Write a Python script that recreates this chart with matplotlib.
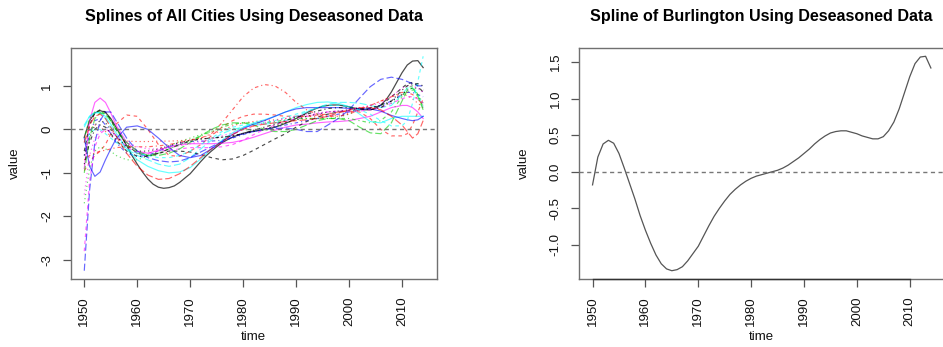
import matplotlib
matplotlib.use("Agg")
import matplotlib.pyplot as plt
from matplotlib.ticker import FixedLocator, FuncFormatter

plt.rcParams['font.family'] = ['Liberation Sans', 'DejaVu Sans']
plt.rcParams['axes.unicode_minus'] = False

# ---------------- data ----------------
time = [1950, 1951, 1952, 1953, 1954, 1955, 1956, 1958, 1960, 1962, 1964, 1966,
        1968, 1970, 1972, 1974, 1976, 1978, 1980, 1982, 1984, 1986, 1988, 1990,
        1992, 1994, 1996, 1998, 2000, 2002, 2004, 2006, 2008, 2010, 2011, 2012,
        2013, 2014]

years = list(range(1950, 2015))
burlington = [-0.18, 0.20, 0.38, 0.43, 0.39, 0.25, 0.05, -0.16, -0.37, -0.60,
              -0.80, -0.98, -1.14, -1.26, -1.33, -1.355, -1.34, -1.30, -1.22, -1.12,
              -1.02, -0.88, -0.74, -0.61, -0.50, -0.40, -0.31, -0.24, -0.18, -0.13,
              -0.09, -0.06, -0.04, -0.02, 0.00, 0.02, 0.05, 0.09, 0.14, 0.19,
              0.25, 0.31, 0.38, 0.44, 0.49, 0.53, 0.55, 0.56, 0.56, 0.54,
              0.52, 0.49, 0.47, 0.45, 0.45, 0.48, 0.56, 0.68, 0.86, 1.08,
              1.30, 1.48, 1.57, 1.58, 1.42]

city02 = [-0.95, -0.75, -0.60, -0.50, -0.35, -0.10, 0.12, 0.33, 0.30, 0.00, -0.35, -0.60,
          -0.62, -0.50, -0.35, -0.15, 0.05, 0.20, 0.30, 0.35, 0.35, 0.33, 0.30, 0.30,
          0.30, 0.33, 0.35, 0.40, 0.42, 0.40, 0.25, 0.00, -0.15, -0.15, -0.10, 0.10,
          0.40, 0.70]
city03 = [-1.70, -0.90, -0.50, -0.40, -0.45, -0.50, -0.60, -0.70, -0.70, -0.62, -0.50, -0.38,
          -0.28, -0.20, -0.12, -0.05, 0.00, 0.02, 0.00, -0.03, -0.02, 0.05, 0.15, 0.22,
          0.25, 0.25, 0.25, 0.28, 0.35, 0.45, 0.50, 0.55, 0.60, 0.75, 0.85, 0.90,
          0.80, 0.60]
city04 = [-0.60, -0.10, 0.20, 0.25, 0.10, -0.10, -0.30, -0.55, -0.62, -0.60, -0.50, -0.40,
          -0.32, -0.28, -0.27, -0.27, -0.25, -0.20, -0.12, -0.05, 0.00, 0.05, 0.10, 0.15,
          0.20, 0.25, 0.30, 0.35, 0.40, 0.45, 0.50, 0.55, 0.65, 0.80, 0.85, 0.85,
          0.80, 0.75]
city05 = [0.05, 0.30, 0.40, 0.38, 0.25, 0.05, -0.15, -0.45, -0.60, -0.70, -0.80, -0.85,
          -0.80, -0.65, -0.45, -0.25, -0.10, 0.00, 0.05, 0.10, 0.12, 0.15, 0.20, 0.30,
          0.40, 0.50, 0.58, 0.62, 0.62, 0.60, 0.55, 0.50, 0.55, 0.80, 0.95, 0.95,
          0.80, 0.50]
city06 = [-0.90, 0.20, 0.62, 0.72, 0.62, 0.38, 0.10, -0.30, -0.50, -0.55, -0.48, -0.40,
          -0.35, -0.33, -0.33, -0.33, -0.32, -0.30, -0.25, -0.18, -0.10, -0.02, 0.05, 0.10,
          0.12, 0.15, 0.17, 0.18, 0.20, 0.25, 0.30, 0.40, 0.50, 0.55, 0.55, 0.50,
          0.40, 0.25]
city07 = [-0.50, 0.10, 0.38, 0.45, 0.40, 0.22, 0.00, -0.35, -0.55, -0.60, -0.55, -0.50,
          -0.50, -0.52, -0.58, -0.65, -0.70, -0.68, -0.60, -0.48, -0.35, -0.22, -0.10, 0.05,
          0.18, 0.28, 0.35, 0.40, 0.43, 0.45, 0.48, 0.55, 0.75, 0.95, 1.05, 1.08,
          1.00, 0.85]
city08 = [-0.30, 0.00, 0.10, 0.05, -0.05, -0.15, -0.22, -0.27, -0.28, -0.28, -0.27, -0.27,
          -0.26, -0.24, -0.20, -0.12, -0.02, 0.08, 0.15, 0.18, 0.20, 0.22, 0.25, 0.28,
          0.30, 0.30, 0.30, 0.32, 0.38, 0.45, 0.55, 0.65, 0.75, 0.80, 0.78, 0.70,
          0.60, 0.50]
city09 = [-0.20, 0.25, 0.40, 0.42, 0.35, 0.20, 0.00, -0.35, -0.55, -0.60, -0.55, -0.45,
          -0.35, -0.25, -0.15, -0.05, 0.05, 0.12, 0.15, 0.15, 0.15, 0.18, 0.22, 0.25,
          0.25, 0.25, 0.25, 0.25, 0.25, 0.20, 0.15, 0.20, 0.40, 0.75, 0.95, 1.00,
          0.80, 0.50]
city10 = [-3.25, -1.40, -0.30, 0.20, 0.40, 0.40, 0.20, -0.20, -0.50, -0.65, -0.72, -0.75,
          -0.73, -0.65, -0.52, -0.40, -0.28, -0.18, -0.10, -0.05, 0.00, 0.02, 0.03, 0.00,
          -0.05, -0.05, 0.10, 0.25, 0.45, 0.72, 0.98, 1.15, 1.20, 1.15, 1.10, 1.05,
          1.00, 1.00]
city11 = [0.10, 0.30, 0.38, 0.38, 0.30, 0.12, -0.08, -0.45, -0.70, -0.85, -0.95, -1.00,
          -0.98, -0.88, -0.68, -0.45, -0.25, -0.08, 0.05, 0.15, 0.22, 0.30, 0.40, 0.50,
          0.57, 0.62, 0.63, 0.60, 0.52, 0.35, 0.18, 0.15, 0.25, 0.30, 0.30, 0.30,
          0.30, 0.30]
city12 = [-2.80, -1.20, -0.40, -0.10, 0.00, -0.05, -0.15, -0.40, -0.55, -0.55, -0.50, -0.48,
          -0.45, -0.42, -0.42, -0.42, -0.40, -0.35, -0.25, -0.12, 0.00, 0.10, 0.18, 0.25,
          0.30, 0.35, 0.40, 0.42, 0.42, 0.42, 0.45, 0.50, 0.60, 0.70, 0.75, 0.75,
          0.70, 0.60]
city13 = [-0.60, -0.20, 0.10, 0.20, 0.15, 0.00, -0.15, -0.40, -0.50, -0.50, -0.45, -0.38,
          -0.30, -0.25, -0.22, -0.20, -0.18, -0.15, -0.10, -0.05, 0.00, 0.08, 0.15, 0.22,
          0.30, 0.35, 0.40, 0.42, 0.45, 0.48, 0.50, 0.55, 0.65, 0.80, 0.90, 0.95,
          0.95, 0.90]
city14 = [-0.70, -0.60, -0.55, -0.50, -0.48, -0.45, -0.42, -0.40, -0.40, -0.40, -0.38, -0.35,
          -0.30, -0.25, -0.20, -0.10, 0.15, 0.45, 0.75, 0.95, 1.03, 1.00, 0.85, 0.62,
          0.45, 0.35, 0.30, 0.30, 0.35, 0.45, 0.55, 0.65, 0.75, 0.85, 0.85, 0.80,
          0.70, 0.55]
city15 = [-1.00, -0.20, 0.25, 0.38, 0.35, 0.20, 0.00, -0.30, -0.50, -0.60, -0.60, -0.55,
          -0.45, -0.30, -0.15, 0.00, 0.10, 0.15, 0.15, 0.10, 0.00, -0.05, -0.05, 0.00,
          0.10, 0.20, 0.25, 0.25, 0.20, 0.05, -0.08, -0.10, 0.15, 0.65, 0.90, 0.95,
          0.75, 0.45]
city16 = [-0.20, -0.85, -1.08, -0.98, -0.70, -0.45, -0.22, 0.05, 0.08, 0.00, -0.20, -0.42,
          -0.60, -0.65, -0.60, -0.45, -0.28, -0.12, 0.02, 0.12, 0.20, 0.30, 0.40, 0.47,
          0.50, 0.50, 0.50, 0.50, 0.48, 0.47, 0.47, 0.42, 0.32, 0.25, 0.22, 0.20,
          0.22, 0.30]
city17 = [-0.30, -0.10, 0.00, 0.00, -0.10, -0.20, -0.30, -0.45, -0.55, -0.60, -0.65, -0.65,
          -0.60, -0.50, -0.35, -0.20, -0.05, 0.05, 0.10, 0.12, 0.15, 0.20, 0.28, 0.35,
          0.42, 0.50, 0.55, 0.55, 0.52, 0.45, 0.35, 0.20, 0.08, 0.08, 0.20, 0.60,
          1.10, 1.68]
city18 = [-1.50, -0.60, -0.20, -0.05, 0.00, -0.05, -0.12, -0.30, -0.40, -0.45, -0.45, -0.42,
          -0.38, -0.33, -0.28, -0.22, -0.15, -0.08, 0.00, 0.08, 0.15, 0.20, 0.25, 0.30,
          0.35, 0.38, 0.40, 0.42, 0.45, 0.50, 0.55, 0.60, 0.75, 0.95, 1.00, 1.00,
          0.95, 0.85]
city19 = [-0.80, -0.30, 0.00, 0.10, 0.05, -0.10, -0.25, -0.50, -0.62, -0.62, -0.55, -0.45,
          -0.35, -0.27, -0.22, -0.20, -0.18, -0.15, -0.10, -0.02, 0.05, 0.12, 0.20, 0.28,
          0.35, 0.42, 0.48, 0.50, 0.50, 0.48, 0.45, 0.50, 0.65, 0.90, 1.00, 1.05,
          1.05, 1.00]
city20 = [-0.30, 0.10, 0.30, 0.35, 0.25, 0.05, -0.15, -0.55, -0.85, -1.05, -1.15, -1.13,
          -1.02, -0.85, -0.65, -0.45, -0.28, -0.12, 0.00, 0.08, 0.12, 0.15, 0.18, 0.20,
          0.22, 0.25, 0.30, 0.38, 0.45, 0.50, 0.50, 0.45, 0.30, 0.10, -0.05, -0.20,
          -0.10, 0.20]

other_cities = [city02, city03, city04, city05, city06, city07, city08,
                city09, city10, city11, city12, city13, city14, city15, city16,
                city17, city18, city19, city20]

xticks = [1950, 1960, 1970, 1980, 1990, 2000, 2010]
yticks_left = [-3, -2, -1, 0, 1]
yticks_right = [-1.0, -0.5, 0.0, 0.5, 1.0, 1.5]

# ---------------- style ----------------
r_cols = ['#000000', '#FF0000', '#00CD00', '#0000FF', '#00FFFF', '#FF00FF']
r_ltys = ['-', (0, (3, 3)), (0, (1, 2.5)), (0, (1, 2.5, 3, 2.5)), (0, (6, 2.5))]

fig = plt.figure(figsize=(9.43, 3.47), dpi=100)
axL = fig.add_axes([0.075, 0.1951, 0.3881, 0.6674])
axR = fig.add_axes([0.614, 0.1951, 0.3875, 0.6674])

box_col = '#707070'
FS = 9.5


def style_axes(ax, yticks, fmt):
    for s in ax.spines.values():
        s.set_color(box_col)
        s.set_linewidth(1.0)
    ax.xaxis.set_major_locator(FixedLocator(xticks))
    ax.yaxis.set_major_locator(FixedLocator(yticks))
    ax.yaxis.set_major_formatter(FuncFormatter(fmt))
    ax.tick_params(axis='both', direction='out', length=5.5, width=0.9,
                   color='#555555', labelsize=FS, labelcolor='#111111', pad=7)
    for lab in ax.get_xticklabels():
        lab.set_rotation(90)
    for lab in ax.get_yticklabels():
        lab.set_rotation(90)
        lab.set_va('center')
    ax.set_xlabel('time', fontsize=FS, color='#111111')
    ax.set_ylabel('value', fontsize=FS, color='#111111')
    ax.xaxis.set_label_coords(0.5, -0.225)
    ax.yaxis.set_label_coords(-0.135, 0.5)


# left panel: all cities (Burlington first, then the others in matplot order)
axL.plot(years, burlington, color='#000000', linestyle='-', linewidth=0.9, alpha=0.7)
for i, series in enumerate(other_cities, start=1):
    col = r_cols[i % 6]
    alpha = 0.6 if col != '#000000' else 0.7
    axL.plot(time, series, color=col, linestyle=r_ltys[i % 5], linewidth=0.85, alpha=alpha)
axL.axhline(0, color='#777777', linestyle=(0, (3, 2.5)), linewidth=1.0)
all_vals = burlington + [v for s in other_cities for v in s]
pad_l = 0.04 * (max(all_vals) - min(all_vals))
axL.set_ylim(min(all_vals) - pad_l, max(all_vals) + pad_l)
xpad = 0.04 * (years[-1] - years[0])
axL.set_xlim(years[0] - xpad, years[-1] + xpad)
style_axes(axL, yticks_left, lambda v, p: '%d' % v)
axL.set_title('Splines of All Cities Using Deseasoned Data', fontsize=11.6,
              fontweight='bold', pad=19)

# right panel: Burlington
axR.plot(years, burlington, color='#555555', linewidth=0.9)
axR.axhline(0, color='#777777', linestyle=(0, (3, 2.5)), linewidth=1.0)
pad_r = 0.04 * (max(burlington) - min(burlington))
axR.set_ylim(min(burlington) - pad_r, max(burlington) + pad_r)
axR.set_xlim(years[0] - xpad, years[-1] + xpad)
style_axes(axR, yticks_right, lambda v, p: '%.1f' % v)
y0 = axR.get_ylim()[0]
axR.plot([xticks[0], xticks[-1]], [y0, y0], color='#333333', linewidth=1.0,
         clip_on=False, zorder=5)
axR.set_title('Spline of Burlington Using Deseasoned Data', fontsize=11.6,
              fontweight='bold', pad=19)

fig.savefig('out.png', dpi=100)
